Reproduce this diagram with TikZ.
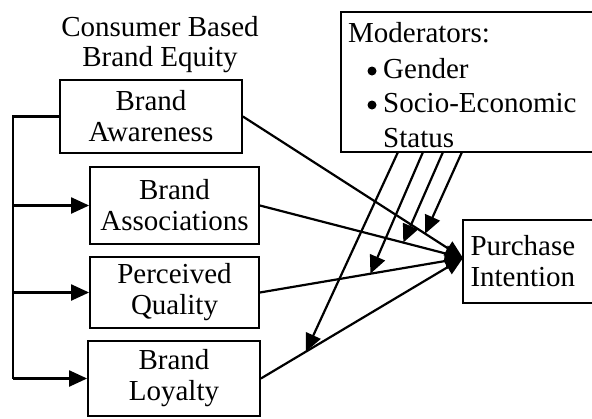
\documentclass[tikz,border=0pt]{standalone}
\usepackage{fontspec}
\setmainfont{Liberation Serif}
\usetikzlibrary{arrows.meta,calc}

\tikzset{
  box/.style={draw, line width=1.8pt, align=center, inner sep=0pt,
              font=\fontsize{29}{31}\selectfont},
  link/.style={line width=2.2pt},
  arrow/.style={line width=2.2pt, -{Triangle[length=18pt,width=16pt]}},
  label/.style={font=\fontsize{29}{31}\selectfont, inner sep=0pt}
}

\begin{document}
\begin{tikzpicture}[x=1pt,y=-1pt]
  \useasboundingbox (0,0) rectangle (592,418);
  \clip (0,0) rectangle (592,418);

  % heading over the brand equity dimensions
  \node[label, anchor=base] (head1) at (160,36) {Consumer Based};
  \node[label, anchor=base] (head2) at (160,66) {Brand Equity};

  % brand equity dimensions
  \node[box, minimum width=182pt, minimum height=73pt] (aware) at (151,116.5) {Brand\\Awareness};
  \node[box, minimum width=169pt, minimum height=77pt] (assoc) at (174.5,205.5) {Brand\\Associations};
  \node[box, minimum width=169pt, minimum height=71pt] (qual) at (174.5,292.5) {Perceived\\Quality};
  \node[box, minimum width=172pt, minimum height=75pt] (loyal) at (174,378.5) {Brand\\Loyalty};

  % outcome
  \node[box, minimum width=130pt, minimum height=83pt, align=left, text width=115pt]
       (pi) at (528,261.5) {Purchase\\Intention};

  % moderators
  \node[box, minimum width=256pt, minimum height=140pt] (mod) at (469,82) {};
  \node[label, anchor=base west] (modt) at (348,42) {Moderators:};
  \node[label, anchor=base west] (mg) at (383,78) {Gender};
  \node[label, anchor=base west] (ms) at (383,112) {Socio-Economic};
  \node[label, anchor=base west] (mst) at (383,147) {Status};
  \fill (372,71) circle (4.5pt);
  \fill (372,105) circle (4.5pt);

  % left bus feeding the dimensions
  \coordinate (busTop) at (13,116.5);
  \coordinate (busBot) at (13,378.5);
  \draw[link] (aware.west) -- (busTop) -- (busBot);
  \draw[arrow] (assoc.west -| busTop) -- (assoc.west);
  \draw[arrow] (qual.west -| busTop) -- (qual.west);
  \draw[arrow] (busBot) -- (loyal.west);

  % paths into purchase intention
  \coordinate (hub) at (463,258);
  \draw[arrow] (aware.east) -- (hub);
  \draw[arrow] (assoc.east) -- (hub);
  \draw[arrow] (qual.east) -- (hub);
  \draw[arrow] (loyal.east) -- (hub);

  % moderating effects on each path
  \coordinate (m1) at (398,152);
  \coordinate (m2) at (423,152);
  \coordinate (m3) at (443,152);
  \coordinate (m4) at (462,152);
  \draw[arrow] (m4) -- ($(aware.east)!0.828!(hub)$);
  \draw[arrow] (m3) -- ($(assoc.east)!0.706!(hub)$);
  \draw[arrow] (m2) -- ($(qual.east)!0.544!(hub)$);
  \draw[arrow] (m1) -- ($(loyal.east)!0.222!(hub)$);
\end{tikzpicture}
\end{document}
